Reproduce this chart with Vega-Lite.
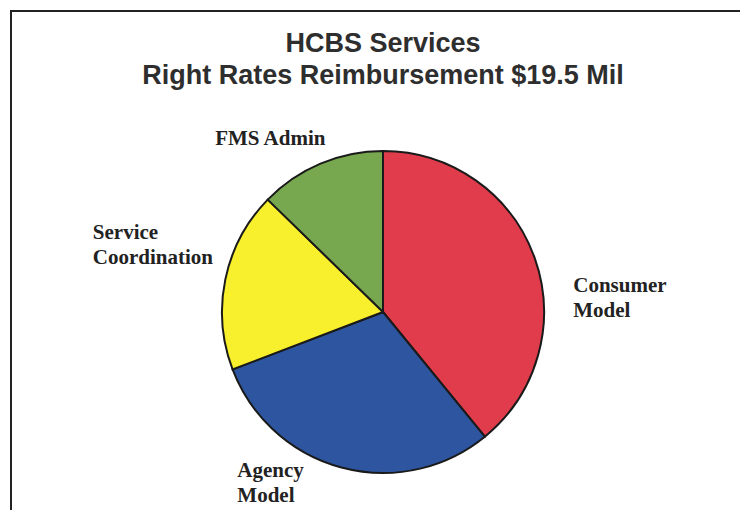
{
  "$schema": "https://vega.github.io/schema/vega-lite/v6.json",
  "autosize": "none",
  "padding": {"left": 11, "top": 11, "right": 0, "bottom": 0},
  "width": 744,
  "height": 602,
  "background": "white",
  "view": {"stroke": "#222222", "strokeWidth": 2},
  "title": {
    "text": ["HCBS Services", "Right Rates Reimbursement $19.5 Mil"],
    "font": "Liberation Sans",
    "fontWeight": "bold",
    "fontSize": 27,
    "lineHeight": 32,
    "color": "#2e2e2e",
    "anchor": "middle",
    "baseline": "top",
    "offset": 0,
    "dy": 79
  },
  "data": {
    "values": [
      {"service": "Consumer Model", "label": "Consumer\nModel", "share": 39.1},
      {"service": "Agency Model", "label": "Agency\nModel", "share": 30.1},
      {"service": "Service Coordination", "label": "Service\nCoordination", "share": 18.1},
      {"service": "FMS Admin", "label": "FMS Admin", "share": 12.7}
    ]
  },
  "encoding": {
    "theta": {"field": "share", "type": "quantitative", "stack": true},
    "order": {"field": "share", "type": "quantitative", "sort": "descending"}
  },
  "layer": [
    {
      "mark": {"type": "arc", "radius": 161, "stroke": "#1a1a1a", "strokeWidth": 2},
      "encoding": {
        "color": {
          "field": "service",
          "type": "nominal",
          "scale": {
            "domain": ["Consumer Model", "Agency Model", "Service Coordination", "FMS Admin"],
            "range": ["#e13c4b", "#2d55a0", "#f8f02c", "#77a84f"]
          },
          "legend": null
        }
      }
    },
    {
      "mark": {"type": "text", "radius": 185, "dx": 16, "dy": 42, "align": "left", "baseline": "alphabetic", "font": "Liberation Serif", "fontWeight": "bold", "fontSize": 21, "lineHeight": 25, "lineBreak": "\n", "color": "#222222"},
      "encoding": {"text": {"condition": {"test": "datum.service === 'Consumer Model'", "field": "label"}, "value": ""}}
    },
    {
      "mark": {"type": "text", "radius": 185, "dx": -98, "dy": -14, "align": "left", "baseline": "alphabetic", "font": "Liberation Serif", "fontWeight": "bold", "fontSize": 21, "lineHeight": 25, "lineBreak": "\n", "color": "#222222"},
      "encoding": {"text": {"condition": {"test": "datum.service === 'Agency Model'", "field": "label"}, "value": ""}}
    },
    {
      "mark": {"type": "text", "radius": 185, "dx": -109, "dy": -35, "align": "left", "baseline": "alphabetic", "font": "Liberation Serif", "fontWeight": "bold", "fontSize": 21, "lineHeight": 25, "lineBreak": "\n", "color": "#222222"},
      "encoding": {"text": {"condition": {"test": "datum.service === 'Service Coordination'", "field": "label"}, "value": ""}}
    },
    {
      "mark": {"type": "text", "radius": 185, "dx": -96, "dy": 3, "align": "left", "baseline": "alphabetic", "font": "Liberation Serif", "fontWeight": "bold", "fontSize": 21, "lineHeight": 25, "lineBreak": "\n", "color": "#222222"},
      "encoding": {"text": {"condition": {"test": "datum.service === 'FMS Admin'", "field": "label"}, "value": ""}}
    }
  ]
}
